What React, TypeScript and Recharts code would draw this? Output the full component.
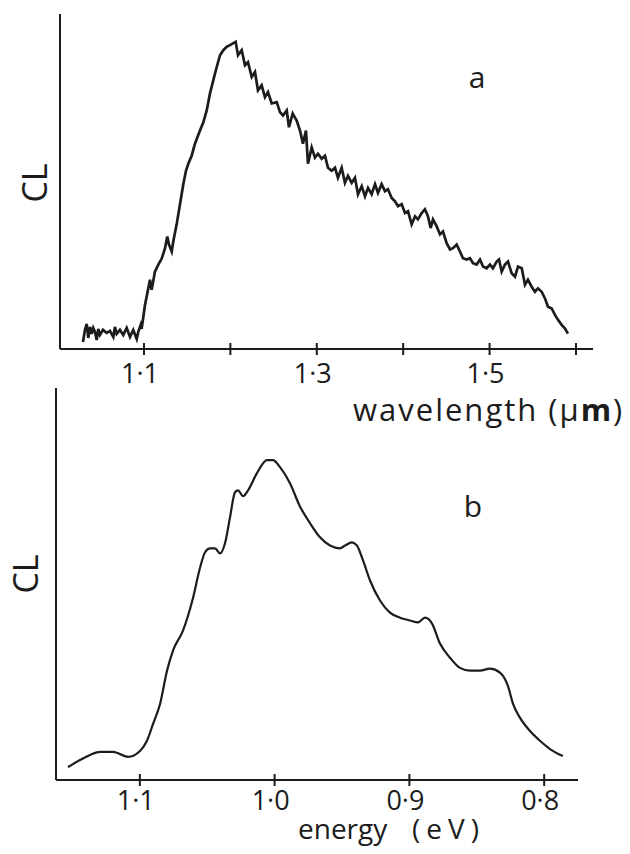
import { LineChart, Line, XAxis, YAxis } from 'recharts';

// panel a: cathodoluminescence vs wavelength (µm), CL in arbitrary units (0-100)
const wavelengthUm = [
  1.0294, 1.0317, 1.0337, 1.0355, 1.0375, 1.0395, 1.0413, 1.0433, 1.0453, 1.0471,
  1.0491, 1.0525, 1.0568, 1.0606, 1.0645, 1.0664, 1.0684, 1.0722, 1.076, 1.08,
  1.0838, 1.0876, 1.0916, 1.0934, 1.0962, 1.0973,
  1.1012, 1.105, 1.1069, 1.1089, 1.1127, 1.1166, 1.1205, 1.1243, 1.127, 1.1289,
  1.1321, 1.1339, 1.1378, 1.1417, 1.1455, 1.1486, 1.1513, 1.1552, 1.159, 1.1648,
  1.1686, 1.1726, 1.1764, 1.1802, 1.1841, 1.188, 1.1918, 1.1957, 1.1995, 1.2034,
  1.2061, 1.2088, 1.2131, 1.2169, 1.2204, 1.2247, 1.2285, 1.2319, 1.2362, 1.24,
  1.2435, 1.2478, 1.2536, 1.2574, 1.2609, 1.2652, 1.2678, 1.2721, 1.2767, 1.2806,
  1.284, 1.2875, 1.2898, 1.2941, 1.2979, 1.3014, 1.3057, 1.3095, 1.313, 1.3173,
  1.3211, 1.3245, 1.3288, 1.3326, 1.3361, 1.3404, 1.3442, 1.3477, 1.352, 1.3558,
  1.3593, 1.3635, 1.3674, 1.3708, 1.3751, 1.3789, 1.3824, 1.3867, 1.3905, 1.394,
  1.3983, 1.4021, 1.4056, 1.4098, 1.4137, 1.4171, 1.4214, 1.4252, 1.4287, 1.4318,
  1.4345, 1.4388, 1.4426, 1.4461, 1.4503, 1.4542, 1.4576, 1.4619, 1.4657, 1.4692,
  1.4735, 1.4773, 1.4808, 1.4851, 1.4889, 1.4924, 1.4966, 1.5005, 1.5039, 1.5082,
  1.5109, 1.514, 1.5178, 1.5213, 1.5256, 1.5294, 1.5329, 1.5372, 1.541, 1.5444,
  1.5487, 1.5525, 1.556, 1.5603, 1.5641, 1.5676, 1.5719, 1.5757, 1.5792, 1.5834,
  1.5873, 1.5907,
];
const clA = [
  2.1, 5.7, 7.5, 3.3, 6.6, 4.5, 6.3, 5.1, 2.7, 6.0,
  4.2, 5.7, 4.8, 5.4, 3.6, 6.6, 4.5, 5.7, 4.2, 6.3,
  3.6, 5.7, 3.0, 5.1, 7.2, 6.0,
  13.2, 18.1, 20.7, 17.7, 23.1, 25.2, 27.0, 30.0, 33.6, 31.2,
  29.1, 32.1, 37.2, 43.2, 49.2, 53.2, 55.3, 57.7, 61.3, 65.2,
  67.6, 71.2, 76.3, 80.2, 84.1, 87.7, 89.2, 90.2, 90.7, 91.3,
  91.7, 87.7, 89.2, 84.7, 85.6, 81.2, 82.7, 77.2, 78.7, 75.2,
  76.7, 73.3, 73.7, 70.7, 69.7, 71.2, 66.2, 70.3, 68.2, 65.2,
  61.3, 65.2, 55.3, 60.2, 57.1, 58.3, 56.8, 57.7, 54.1, 53.2,
  54.1, 51.1, 54.1, 49.6, 51.7, 49.6, 51.1, 46.2, 48.6, 45.6,
  48.1, 46.2, 49.2, 46.6, 49.2, 47.1, 47.7, 45.1, 44.1, 42.6,
  43.2, 40.6, 41.1, 37.2, 39.6, 38.7, 40.6, 41.7, 39.6, 36.1,
  38.7, 36.6, 34.2, 35.1, 31.6, 29.7, 30.1, 31.2, 29.1, 27.1,
  26.7, 27.1, 25.6, 25.2, 26.7, 24.6, 24.1, 25.2, 24.1, 26.1,
  26.7, 23.1, 25.2, 26.1, 22.6, 21.6, 24.6, 24.1, 19.2, 20.7,
  18.6, 17.1, 18.1, 17.1, 15.1, 12.6, 12.1, 10.2, 8.7, 7.2,
  6.1, 4.6,
];
const wavelengthTicks = [1.1, 1.2, 1.3, 1.4, 1.5, 1.6];
const wavelengthLabelled = [1.1, 1.3, 1.5];

// panel b: same spectrum vs photon energy (eV)
const energyEv = [
  1.1533, 1.1444, 1.1369, 1.1295, 1.1199, 1.1088, 1.0999, 1.0947, 1.0902, 1.085,
  1.0798, 1.0754, 1.068, 1.0605, 1.0553, 1.0516, 1.0479, 1.0442, 1.0405, 1.0368,
  1.0331, 1.0294, 1.0272, 1.0234, 1.0197, 1.0131, 1.0056, 1.0012, 0.996, 0.9886,
  0.9812, 0.9737, 0.9663, 0.9589, 0.9515, 0.9478, 0.9426, 0.9389, 0.9344, 0.9292,
  0.9218, 0.9144, 0.907, 0.8996, 0.8936, 0.8884, 0.8832, 0.8773, 0.8699, 0.8625,
  0.855, 0.8476, 0.8402, 0.8328, 0.8269, 0.8231, 0.818, 0.8105, 0.8031, 0.7957,
  0.7861,
];
const clB = [
  3.3, 5.1, 6.4, 7.2, 7.2, 5.9, 7.4, 10.0, 14.3, 19.4,
  27.9, 33.0, 38.1, 46.5, 54.2, 58.1, 59.1, 59.1, 57.8, 60.4,
  67.0, 73.4, 73.9, 72.4, 73.9, 78.3, 81.6, 81.6, 79.8, 75.7,
  69.8, 65.5, 61.9, 59.8, 59.1, 59.8, 60.6, 59.8, 56.0, 50.9,
  45.8, 42.7, 41.4, 40.7, 40.2, 41.4, 39.9, 34.8, 31.2, 28.6,
  27.9, 27.9, 28.4, 27.4, 24.0, 19.4, 15.9, 12.5, 10.0, 7.9,
  6.1,
];
const energyTicks = [1.1, 1.0, 0.9, 0.8];

const INK = '#1c1c1c';
const FONT = '"Open Sans", sans-serif';

const dataA = wavelengthUm.map((w, i) => ({ x: w, cl: clA[i] }));
const dataB = energyEv.map((e, i) => ({ x: e, cl: clB[i] }));

const fmt = (v: number) => v.toFixed(1).replace('.', '·');

function makeTick(labelled: number[], labelDy: number) {
  return (props: any) => {
    const { x, y, payload } = props;
    const show = labelled.some((v) => Math.abs(v - payload.value) < 1e-6);
    return (
      <g>
        <line x1={x} x2={x} y1={y - 6} y2={y + 6} stroke={INK} strokeWidth={2} />
        {show && (
          <text x={x - 4} y={y + labelDy} textAnchor="middle" fontFamily={FONT} fontSize={27} fill={INK}>
            {fmt(payload.value)}
          </text>
        )}
      </g>
    );
  };
}

export default function App() {
  return (
    <div style={{ position: 'absolute', left: 0, top: 0, width: 630, height: 854, background: '#fff' }}>
      {/* panel a */}
      <div style={{ position: 'absolute', left: 0, top: 0 }}>
        <LineChart width={630} height={430} data={dataA} margin={{ top: 14, right: 37, bottom: 80, left: 59 }}>
          <XAxis
            dataKey="x"
            type="number"
            domain={[1.0028, 1.6197]}
            allowDataOverflow
            ticks={wavelengthTicks}
            interval={0}
            height={1}
            tickSize={0}
            tickMargin={0}
            tickLine={false}
            axisLine={{ stroke: INK, strokeWidth: 2 }}
            tick={makeTick(wavelengthLabelled, 34)}
          />
          <YAxis
            type="number"
            domain={[0, 100]}
            width={1}
            tick={false}
            tickLine={false}
            axisLine={{ stroke: INK, strokeWidth: 2 }}
          />
          <Line
            dataKey="cl"
            type="linear"
            stroke={INK}
            strokeWidth={2.7}
            dot={false}
            isAnimationActive={false}
          />
          <text x={34} y={183} transform="rotate(-90 34 183)" textAnchor="middle" dominantBaseline="central" fontFamily={FONT} fontSize={34} fill={INK}>
            CL
          </text>
          <text x={477} y={88} textAnchor="middle" fontFamily={FONT} fontSize={30} fill={INK}>
            a
          </text>
          <text x={353} y={421} fontFamily={FONT} fontSize={31} letterSpacing={2} fill={INK}>
            wavelength (µ<tspan fontWeight="bold">m</tspan>)
          </text>
        </LineChart>
      </div>

      {/* panel b */}
      <div style={{ position: 'absolute', left: 0, top: 375 }}>
        <LineChart width={630} height={479} data={dataB} margin={{ top: 13, right: 52, bottom: 73, left: 55 }}>
          <XAxis
            dataKey="x"
            type="number"
            reversed
            domain={[0.7749, 1.1622]}
            allowDataOverflow
            ticks={energyTicks}
            interval={0}
            height={1}
            tickSize={0}
            tickMargin={0}
            tickLine={false}
            axisLine={{ stroke: INK, strokeWidth: 2 }}
            tick={makeTick(energyTicks, 30)}
          />
          <YAxis
            type="number"
            domain={[0, 100]}
            width={1}
            tick={false}
            tickLine={false}
            axisLine={{ stroke: INK, strokeWidth: 2 }}
          />
          <Line
            dataKey="cl"
            type="monotone"
            stroke={INK}
            strokeWidth={2.2}
            dot={false}
            isAnimationActive={false}
          />
          <text x={25} y={199} transform="rotate(-90 25 199)" textAnchor="middle" dominantBaseline="central" fontFamily={FONT} fontSize={34} fill={INK}>
            CL
          </text>
          <text x={473} y={142} textAnchor="middle" fontFamily={FONT} fontSize={30} fill={INK}>
            b
          </text>
          <text y={464} fontFamily={FONT} fontSize={28} fill={INK}>
            <tspan x={298}>energy</tspan>
            <tspan x={412} letterSpacing={6}>(eV)</tspan>
          </text>
        </LineChart>
      </div>
    </div>
  );
}
